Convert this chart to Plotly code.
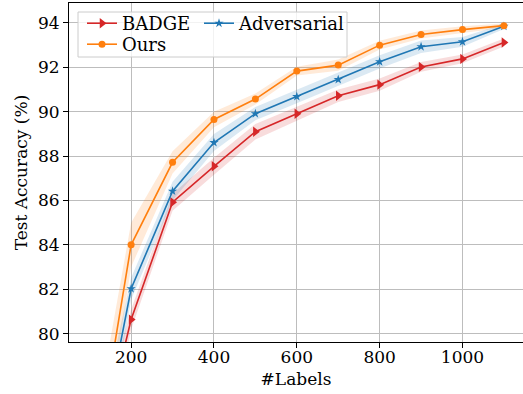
import plotly.graph_objects as go

labels = [100, 200, 300, 400, 500, 600, 700, 800, 900, 1000, 1100]

badge_mean = [72.9, 80.63, 85.92, 87.54, 89.10, 89.91, 90.72, 91.22, 92.02, 92.38, 93.12]
badge_std = [1.5, 0.45, 0.38, 0.38, 0.35, 0.30, 0.28, 0.28, 0.22, 0.20, 0.18]

adv_mean = [72.5, 82.02, 86.42, 88.61, 89.91, 90.68, 91.45, 92.25, 92.93, 93.15, 93.85]
adv_std = [1.5, 0.50, 0.42, 0.38, 0.30, 0.30, 0.30, 0.30, 0.28, 0.22, 0.12]

ours_mean = [72.7, 84.00, 87.72, 89.65, 90.57, 91.83, 92.10, 93.00, 93.48, 93.70, 93.88]
ours_std = [1.8, 1.00, 0.50, 0.35, 0.25, 0.20, 0.25, 0.20, 0.18, 0.15, 0.10]

series = [
    ("BADGE", badge_mean, badge_std, "#d62728", (214, 39, 40), "triangle-right", 9, "legend"),
    ("Adversarial", adv_mean, adv_std, "#1f77b4", (31, 119, 180), "star", 7, "legend2"),
    ("Ours", ours_mean, ours_std, "#ff7f0e", (255, 127, 14), "circle", 7, "legend3"),
]

FONT = "DejaVu Serif"
fig = go.Figure()

for name, mean, std, color, rgb, sym, msize, leg in series:
    upper = [m + s for m, s in zip(mean, std)]
    lower = [m - s for m, s in zip(mean, std)]
    fig.add_trace(go.Scatter(
        x=labels + labels[::-1], y=upper + lower[::-1],
        fill="toself", fillcolor="rgba(%d,%d,%d,0.16)" % rgb,
        line=dict(width=0), mode="lines", showlegend=False, hoverinfo="skip",
    ))

for name, mean, std, color, rgb, sym, msize, leg in series:
    fig.add_trace(go.Scatter(
        x=labels, y=mean, name=name, mode="lines+markers",
        line=dict(color=color, width=1.6),
        marker=dict(symbol=sym, size=msize, color=color, line=dict(width=0)),
        legend=leg,
    ))

# plot area pixel geometry
L, R, T, B = 69, 523, 3, 342
def px(x):
    return (x - L) / (R - L)
def py(y):
    return (B - y) / (B - T)

fig.add_shape(type="rect", xref="paper", yref="paper",
              x0=px(78), x1=px(347), y0=py(57), y1=py(12),
              line=dict(color="#cccccc", width=1), fillcolor="rgba(255,255,255,0.8)",
              layer="above")

legend_common = dict(
    font=dict(family=FONT, size=18, color="black"),
    bgcolor="rgba(0,0,0,0)", borderwidth=0,
    xanchor="left", yanchor="top", tracegroupgap=0, itemwidth=30,
)

fig.update_layout(
    width=523, height=394,
    margin=dict(l=L, r=523 - R, t=T, b=394 - B),
    paper_bgcolor="white", plot_bgcolor="white",
    font=dict(family=FONT, size=17, color="black"),
    legend=dict(x=px(82), y=py(5), **legend_common),
    legend2=dict(x=px(199), y=py(5), **legend_common),
    legend3=dict(x=px(82), y=py(26), **legend_common),
    xaxis=dict(
        range=[50, 50 + (R - L) / 0.4142],
        tickvals=[200, 400, 600, 800, 1000],
        showgrid=True, gridcolor="#bdbdbd", gridwidth=1,
        showline=True, linecolor="black", linewidth=1, mirror=True,
        ticks="outside", ticklen=5, tickcolor="black",
        tickfont=dict(family=FONT, size=17),
        ticklabelstandoff=-5,
        title=dict(text="#Labels", font=dict(family=FONT, size=17), standoff=6),
        zeroline=False,
    ),
    yaxis=dict(
        range=[79.62, 94.9],
        tickvals=[80, 82, 84, 86, 88, 90, 92, 94],
        showgrid=True, gridcolor="#bdbdbd", gridwidth=1,
        showline=True, linecolor="black", linewidth=1, mirror=False,
        ticks="outside", ticklen=5, tickcolor="black",
        tickfont=dict(family=FONT, size=17),
        title=dict(text="Test Accuracy (%)", font=dict(family=FONT, size=17), standoff=6),
        zeroline=False,
    ),
)

fig.write_html("out.html")
